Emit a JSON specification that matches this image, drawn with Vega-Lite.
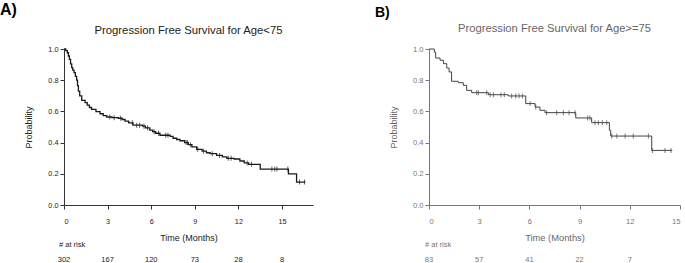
{
  "$schema": "https://vega.github.io/schema/vega-lite/v6.json",
  "padding": {"left": 0, "top": 1, "right": 0, "bottom": 0},
  "config": {"font": "Liberation Sans", "view": {"stroke": null}, "axis": {"grid": false}},
  "datasets": {
    "a_curve": [
      {"t": 0, "s": 1}, {"t": 0.12, "s": 0.99}, {"t": 0.23, "s": 0.976}, {"t": 0.3, "s": 0.955}, {"t": 0.37, "s": 0.934},
      {"t": 0.45, "s": 0.905}, {"t": 0.53, "s": 0.88}, {"t": 0.6, "s": 0.865}, {"t": 0.69, "s": 0.848}, {"t": 0.78, "s": 0.825},
      {"t": 0.87, "s": 0.8}, {"t": 0.93, "s": 0.765}, {"t": 0.99, "s": 0.73}, {"t": 1.08, "s": 0.7}, {"t": 1.22, "s": 0.671},
      {"t": 1.45, "s": 0.656}, {"t": 1.6, "s": 0.64}, {"t": 1.75, "s": 0.625}, {"t": 1.9, "s": 0.613}, {"t": 2.2, "s": 0.598},
      {"t": 2.48, "s": 0.585}, {"t": 2.7, "s": 0.573}, {"t": 2.94, "s": 0.564}, {"t": 3.3, "s": 0.56}, {"t": 3.74, "s": 0.556},
      {"t": 4.0, "s": 0.548}, {"t": 4.2, "s": 0.538}, {"t": 4.45, "s": 0.527}, {"t": 4.75, "s": 0.512}, {"t": 5.4, "s": 0.505},
      {"t": 5.6, "s": 0.495}, {"t": 5.9, "s": 0.48}, {"t": 6.1, "s": 0.47}, {"t": 6.3, "s": 0.46}, {"t": 6.6, "s": 0.447},
      {"t": 7.3, "s": 0.44}, {"t": 7.5, "s": 0.428}, {"t": 7.75, "s": 0.42}, {"t": 7.98, "s": 0.412}, {"t": 8.3, "s": 0.4},
      {"t": 8.55, "s": 0.387}, {"t": 8.8, "s": 0.372}, {"t": 9.13, "s": 0.357}, {"t": 9.5, "s": 0.345}, {"t": 9.8, "s": 0.335},
      {"t": 10.05, "s": 0.329}, {"t": 10.5, "s": 0.318}, {"t": 10.9, "s": 0.308}, {"t": 11.2, "s": 0.299}, {"t": 11.7, "s": 0.295},
      {"t": 12.1, "s": 0.282}, {"t": 12.4, "s": 0.27}, {"t": 12.7, "s": 0.261}, {"t": 13.5, "s": 0.23}, {"t": 15.44, "s": 0.2},
      {"t": 16.0, "s": 0.147}, {"t": 16.6, "s": 0.147}
    ],
    "a_cens": [
      {"t": 3.15, "s": 0.564}, {"t": 3.45, "s": 0.56}, {"t": 3.9, "s": 0.556}, {"t": 4.7, "s": 0.527}, {"t": 5.0, "s": 0.512},
      {"t": 5.2, "s": 0.512}, {"t": 5.5, "s": 0.505}, {"t": 5.75, "s": 0.495}, {"t": 6.2, "s": 0.47}, {"t": 6.5, "s": 0.46},
      {"t": 7.0, "s": 0.447}, {"t": 7.15, "s": 0.447}, {"t": 8.4, "s": 0.4}, {"t": 8.5, "s": 0.4}, {"t": 8.7, "s": 0.387},
      {"t": 9.2, "s": 0.357}, {"t": 9.6, "s": 0.345}, {"t": 10.2, "s": 0.329}, {"t": 10.7, "s": 0.318}, {"t": 11.3, "s": 0.299},
      {"t": 11.5, "s": 0.299}, {"t": 12.6, "s": 0.27}, {"t": 12.9, "s": 0.261}, {"t": 14.3, "s": 0.23}, {"t": 14.5, "s": 0.23},
      {"t": 14.65, "s": 0.23}, {"t": 15.4, "s": 0.23}, {"t": 16.2, "s": 0.147}, {"t": 16.55, "s": 0.147}
    ],
    "a_risk": [
      {"t": 0, "n": 302}, {"t": 3, "n": 167}, {"t": 6, "n": 120}, {"t": 9, "n": 73}, {"t": 12, "n": 28}, {"t": 15, "n": 8}
    ],
    "b_curve": [
      {"t": 0, "s": 1}, {"t": 0.32, "s": 0.98}, {"t": 0.4, "s": 0.942}, {"t": 0.66, "s": 0.928}, {"t": 0.86, "s": 0.906},
      {"t": 1.06, "s": 0.878}, {"t": 1.2, "s": 0.853}, {"t": 1.35, "s": 0.793}, {"t": 1.75, "s": 0.784}, {"t": 2.05, "s": 0.767},
      {"t": 2.25, "s": 0.735}, {"t": 2.55, "s": 0.72}, {"t": 3.55, "s": 0.707}, {"t": 4.74, "s": 0.699}, {"t": 5.78, "s": 0.65},
      {"t": 6.34, "s": 0.628}, {"t": 6.63, "s": 0.607}, {"t": 6.93, "s": 0.592}, {"t": 8.77, "s": 0.558}, {"t": 9.72, "s": 0.528},
      {"t": 10.78, "s": 0.479}, {"t": 10.86, "s": 0.442}, {"t": 13.31, "s": 0.35}, {"t": 14.54, "s": 0.35}
    ],
    "b_cens": [
      {"t": 2.85, "s": 0.72}, {"t": 2.95, "s": 0.72}, {"t": 3.45, "s": 0.72}, {"t": 3.65, "s": 0.707}, {"t": 3.85, "s": 0.707},
      {"t": 4.3, "s": 0.707}, {"t": 4.5, "s": 0.707}, {"t": 4.94, "s": 0.699}, {"t": 5.18, "s": 0.699}, {"t": 5.38, "s": 0.699},
      {"t": 5.58, "s": 0.699}, {"t": 6.04, "s": 0.65}, {"t": 6.38, "s": 0.628}, {"t": 7.03, "s": 0.592}, {"t": 7.63, "s": 0.592},
      {"t": 8.03, "s": 0.592}, {"t": 8.37, "s": 0.592}, {"t": 8.73, "s": 0.592}, {"t": 9.48, "s": 0.558}, {"t": 9.62, "s": 0.558},
      {"t": 9.92, "s": 0.528}, {"t": 10.12, "s": 0.528}, {"t": 10.36, "s": 0.528}, {"t": 10.62, "s": 0.528}, {"t": 10.92, "s": 0.442},
      {"t": 11.22, "s": 0.442}, {"t": 11.72, "s": 0.442}, {"t": 12.21, "s": 0.442}, {"t": 13.11, "s": 0.442}, {"t": 13.35, "s": 0.35},
      {"t": 14.1, "s": 0.35}, {"t": 14.46, "s": 0.35}
    ],
    "b_risk": [
      {"t": 0, "n": 83}, {"t": 3, "n": 57}, {"t": 6, "n": 41}, {"t": 9, "n": 22}, {"t": 12, "n": 7}
    ]
  },
  "spacing": 62,
  "hconcat": [
    {
      "title": {"text": "A)", "anchor": "start", "frame": "group", "fontSize": 16, "fontWeight": "bold", "color": "#000", "dx": -64, "offset": -6, "baseline": "alphabetic"},
      "bounds": "flush",
      "spacing": 50,
      "vconcat": [
        {
          "width": 249,
          "height": 156,
          "title": {"text": "Progression Free Survival for Age<75", "fontSize": 11.3, "fontWeight": "normal", "color": "#222", "baseline": "alphabetic", "offset": 0},
          "layer": [
            {
              "data": {"name": "a_curve"},
              "mark": {"type": "line", "interpolate": "step-after", "color": "#1a1a1a", "strokeWidth": 1.3},
              "encoding": {
                "x": {"field": "t", "type": "quantitative", "scale": {"domain": [0, 17.13], "nice": false},
                  "axis": {"values": [0, 3, 6, 9, 12, 15], "title": "Time (Months)", "titleFontSize": 9, "titleFontWeight": "normal", "titleColor": "#222", "titlePadding": 9, "labelFontSize": 7.3, "labelColor": "#222", "labelPadding": 8, "tickSize": 4, "tickColor": "#333", "domainColor": "#333"}},
                "y": {"field": "s", "type": "quantitative", "scale": {"domain": [0, 1], "nice": false},
                  "axis": {"tickCount": 5, "format": ".1f", "title": "Probability", "titleFontSize": 9, "titleFontWeight": "normal", "titleColor": "#222", "titlePadding": 14, "labelFontSize": 7.3, "labelColor": "#222", "labelPadding": 2, "labelOverlap": false, "tickSize": 4, "tickColor": "#333", "domainColor": "#333"}}
              }
            },
            {
              "data": {"name": "a_cens"},
              "mark": {"type": "tick", "orient": "vertical", "size": 5, "thickness": 1, "color": "#1a1a1a"},
              "encoding": {"x": {"field": "t", "type": "quantitative"}, "y": {"field": "s", "type": "quantitative"}}
            },
            {
              "mark": {"type": "text", "text": "Median PFS: 5.2 months", "align": "left", "baseline": "middle", "fontSize": 7, "color": "#222"},
              "encoding": {"x": {"datum": 1.03, "type": "quantitative"}, "y": {"datum": 0.173, "type": "quantitative"}}
            },
            {
              "mark": {"type": "text", "text": "95% CI: 3.7 ~ 7.4 months", "align": "left", "baseline": "middle", "fontSize": 7, "color": "#222"},
              "encoding": {"x": {"datum": 1.03, "type": "quantitative"}, "y": {"datum": 0.103, "type": "quantitative"}}
            }
          ]
        },
        {
          "width": 249,
          "height": 10,
          "title": {"text": "# at risk", "anchor": "start", "frame": "group", "fontSize": 7.5, "fontWeight": "normal", "color": "#222", "dx": -5, "offset": 1, "baseline": "alphabetic"},
          "data": {"name": "a_risk"},
          "mark": {"type": "text", "fontSize": 7.5, "color": "#222", "baseline": "middle"},
          "encoding": {
            "x": {"field": "t", "type": "quantitative", "scale": {"domain": [0, 17.13], "nice": false}, "axis": null},
            "text": {"field": "n", "type": "quantitative"}
          }
        }
      ]
    },
    {
      "title": {"text": "B)", "anchor": "start", "frame": "group", "fontSize": 14, "fontWeight": "bold", "color": "#000", "dx": -54, "offset": -8, "baseline": "alphabetic"},
      "bounds": "flush",
      "spacing": 50,
      "vconcat": [
        {
          "width": 251,
          "height": 156,
          "title": {"text": "Progression Free Survival for Age>=75", "fontSize": 11.2, "fontWeight": "normal", "color": "#666", "baseline": "alphabetic", "offset": 2},
          "layer": [
            {
              "data": {"name": "b_curve"},
              "mark": {"type": "line", "interpolate": "step-after", "color": "#444", "strokeWidth": 1},
              "encoding": {
                "x": {"field": "t", "type": "quantitative", "scale": {"domain": [0, 15], "nice": false},
                  "axis": {"values": [0, 3, 6, 9, 12, 15], "title": "Time (Months)", "titleFontSize": 9.3, "titleFontWeight": "normal", "titleColor": "#666", "titlePadding": 9, "labelFontSize": 7.6, "labelColor": "#777", "labelPadding": 8, "tickSize": 4, "tickColor": "#777", "domainColor": "#777"}},
                "y": {"field": "s", "type": "quantitative", "scale": {"domain": [0, 1], "nice": false},
                  "axis": {"tickCount": 5, "format": ".1f", "title": "Probability", "titleFontSize": 9, "titleFontWeight": "normal", "titleColor": "#666", "titlePadding": 14, "labelFontSize": 7.6, "labelColor": "#777", "labelPadding": 2, "labelOverlap": false, "tickSize": 4, "tickColor": "#777", "domainColor": "#777"}}
              }
            },
            {
              "data": {"name": "b_cens"},
              "mark": {"type": "tick", "orient": "vertical", "size": 5, "thickness": 1, "color": "#444"},
              "encoding": {"x": {"field": "t", "type": "quantitative"}, "y": {"field": "s", "type": "quantitative"}}
            },
            {
              "mark": {"type": "text", "text": "Median PFS: 10.7 months", "align": "left", "baseline": "middle", "fontSize": 7.6, "color": "#777"},
              "encoding": {"x": {"datum": 1.0, "type": "quantitative"}, "y": {"datum": 0.173, "type": "quantitative"}}
            },
            {
              "mark": {"type": "text", "text": "95% CI: 6.6 ~ NA months", "align": "left", "baseline": "middle", "fontSize": 7.6, "color": "#777"},
              "encoding": {"x": {"datum": 1.0, "type": "quantitative"}, "y": {"datum": 0.09, "type": "quantitative"}}
            }
          ]
        },
        {
          "width": 251,
          "height": 10,
          "title": {"text": "# at risk", "anchor": "start", "frame": "group", "fontSize": 7.5, "fontWeight": "normal", "color": "#777", "dx": -4, "offset": 1, "baseline": "alphabetic"},
          "data": {"name": "b_risk"},
          "mark": {"type": "text", "fontSize": 7.5, "color": "#777", "baseline": "middle"},
          "encoding": {
            "x": {"field": "t", "type": "quantitative", "scale": {"domain": [0, 15], "nice": false}, "axis": null},
            "text": {"field": "n", "type": "quantitative"}
          }
        }
      ]
    }
  ]
}
